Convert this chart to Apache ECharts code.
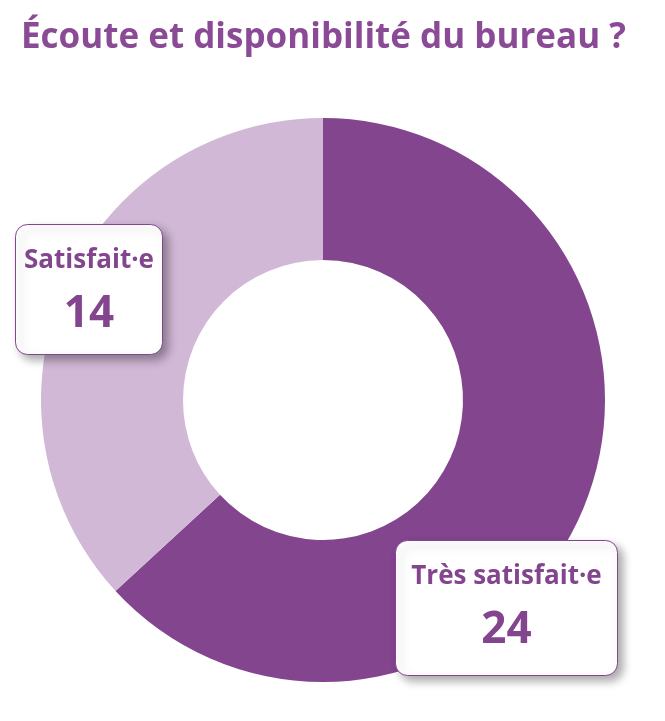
<!DOCTYPE html>
<html><head><meta charset="utf-8">
<script src="https://cdn.jsdelivr.net/npm/echarts@6/dist/echarts.min.js"></script>
<style>html,body{margin:0;padding:0;background:#fff}#c{width:665px;height:721px}</style>
</head><body><div id="c"></div>
<script>
const categories = ["Très satisfait·e", "Satisfait·e"];
const values = [24, 14];
const colors = ["#84458f", "#d1b8d7"];
const chart = echarts.init(document.getElementById('c'));
const boxes = [
  {x: 395, y: 540, w: 222, h: 135},
  {x: 15, y: 224, w: 147, h: 130}
];
const graphic = boxes.map((b, i) => ({
  type: 'group', left: b.x, top: b.y,
  children: [
    {type: 'rect', z: 100, shape: {x: 0, y: 0, width: b.w, height: b.h, r: 12},
     style: {fill: '#fff', stroke: '#84458f', lineWidth: 1, shadowBlur: 10, shadowOffsetX: 5, shadowOffsetY: 5, shadowColor: 'rgba(0,0,0,0.35)'}},
    {type: 'text', z: 101, style: {x: b.w/2, y: 36, text: categories[i], fill: '#84458f', font: 'bold 26px "Open Sans", sans-serif', align: 'center', verticalAlign: 'middle'}},
    {type: 'text', z: 101, style: {x: b.w/2, y: 90, text: String(values[i]), fill: '#84458f', font: 'bold 44px "Open Sans", sans-serif', align: 'center', verticalAlign: 'middle'}}
  ]
}));
chart.setOption({
  title: {text: 'Écoute et disponibilité du bureau ?', left: 16, top: 16,
    textStyle: {color: '#8a4a95', fontSize: 35, fontWeight: 'bold', fontFamily: '"Open Sans", sans-serif'}},
  series: [{
    type: 'pie', center: [323, 400], radius: [140, 282], startAngle: 90, clockwise: true, z: 1,
    label: {show: false}, labelLine: {show: false}, silent: true,
    data: categories.map((n, i) => ({name: n, value: values[i], itemStyle: {color: colors[i]}}))
  }],
  graphic
});
</script></body></html>
